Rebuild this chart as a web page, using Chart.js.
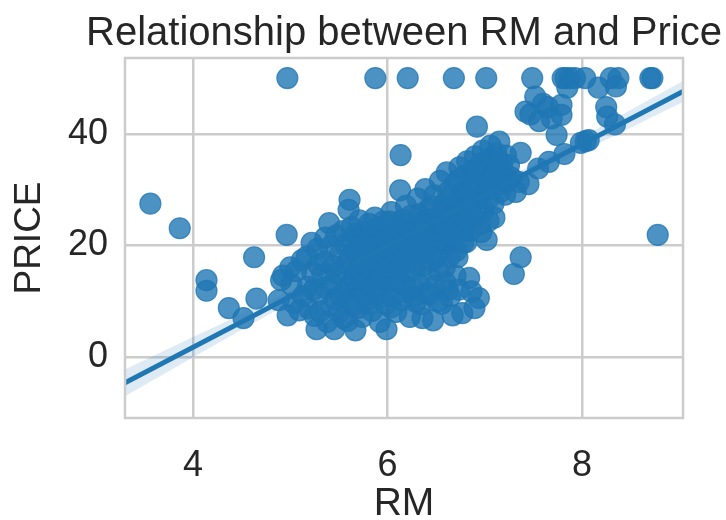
<!DOCTYPE html>
<html>
<head>
<meta charset="utf-8">
<script src="https://cdn.jsdelivr.net/npm/chart.js@4.4.1/dist/chart.umd.min.js"></script>
<style>
  html, body { margin: 0; padding: 0; background: #ffffff; }
  canvas { display: block; }
</style>
</head>
<body>
<canvas id="chart" width="726" height="520"></canvas>
<script>
// Average number of rooms (RM) and median home price (PRICE, $1000s)
const rm = [
  3.561, 3.863, 4.138, 4.138, 4.368, 4.519, 4.628, 4.652, 4.880, 4.906,
  4.926, 4.963, 4.970, 4.973, 5.000, 5.012, 5.036, 5.060, 5.093, 5.120,
  5.130, 5.170, 5.180, 5.190, 5.220, 5.225, 5.240, 5.250, 5.270, 5.280,
  5.290, 5.300, 5.310, 5.330, 5.350, 5.360, 5.370, 5.380, 5.400, 5.410,
  5.420, 5.430, 5.440, 5.453, 5.460, 5.470, 5.480, 5.500, 5.510, 5.520,
  5.530, 5.540, 5.550, 5.560, 5.570, 5.580, 5.590, 5.600, 5.610, 5.620,
  5.630, 5.640, 5.660, 5.670, 5.680, 5.690, 5.700, 5.710, 5.720, 5.730,
  5.740, 5.750, 5.760, 5.780, 5.790, 5.800, 5.810, 5.820, 5.830, 5.840,
  5.850, 5.860, 5.870, 5.875, 5.880, 5.890, 5.900, 5.910, 5.920, 5.930,
  5.940, 5.950, 5.960, 5.970, 5.980, 5.990, 6.000, 6.010, 6.020, 6.030,
  6.040, 6.050, 6.060, 6.070, 6.080, 6.090, 6.100, 6.110, 6.120, 6.130,
  6.135, 6.140, 6.150, 6.160, 6.170, 6.180, 6.190, 6.200, 6.208, 6.210,
  6.220, 6.230, 6.240, 6.250, 6.260, 6.270, 6.280, 6.290, 6.300, 6.310,
  6.320, 6.330, 6.340, 6.350, 6.360, 6.370, 6.380, 6.390, 6.400, 6.410,
  6.420, 6.430, 6.440, 6.450, 6.460, 6.470, 6.480, 6.490, 6.500, 6.510,
  6.520, 6.530, 6.540, 6.550, 6.560, 6.570, 6.580, 6.590, 6.600, 6.610,
  6.620, 6.630, 6.640, 6.650, 6.660, 6.670, 6.680, 6.683, 6.690, 6.700,
  6.710, 6.720, 6.730, 6.740, 6.750, 6.760, 6.770, 6.780, 6.790, 6.800,
  6.810, 6.820, 6.830, 6.840, 6.850, 6.860, 6.870, 6.880, 6.900, 6.910,
  6.920, 6.930, 6.940, 6.950, 6.960, 6.970, 6.980, 6.990, 7.000, 7.016,
  7.020, 7.030, 7.040, 7.050, 7.060, 7.080, 7.090, 7.100, 7.120, 7.130,
  7.150, 7.160, 7.180, 7.200, 7.220, 7.240, 7.250, 7.270, 7.300, 7.320,
  7.350, 7.370, 7.370, 7.420, 7.450, 7.470, 7.489, 7.520, 7.550, 7.560,
  7.600, 7.650, 7.660, 7.690, 7.740, 7.790, 7.790, 7.802, 7.820, 7.831,
  7.850, 7.875, 7.929, 7.990, 8.034, 8.040, 8.070, 8.170, 8.250, 8.260,
  8.297, 8.340, 8.350, 8.375, 8.704, 8.725, 8.780,
  5.605, 5.625, 5.655, 5.675, 5.705, 5.725, 5.755, 5.775, 5.805, 5.825,
  5.855, 5.885, 5.905, 5.925, 5.955, 5.975, 6.005, 6.025, 6.055, 6.075,
  6.105, 6.125, 6.155, 6.175, 6.205, 6.225, 6.255, 6.275, 6.305, 6.325,
  6.355, 6.375, 6.405, 6.425, 6.455, 6.475, 6.505, 6.525, 6.555, 6.575,
  6.605, 6.625, 6.655, 6.675, 6.705, 6.725, 6.755, 6.775, 6.805, 6.825,
  6.855, 6.875, 6.905, 6.935, 6.965, 7.005, 7.035, 7.065, 7.105, 7.145,
  7.175, 7.210, 5.615, 5.695, 5.765, 5.815, 5.945, 6.035, 6.145, 6.185,
  6.265, 6.345, 6.435, 6.515, 6.595, 6.645, 6.735, 6.865, 6.895
];
const price = [
  27.5, 23.1, 11.9, 13.8, 8.8, 7.0, 17.9, 10.5, 10.2, 13.8,
  14.6, 21.9, 50.0, 7.5, 16.1, 13.0, 9.7, 15.4, 8.4, 17.4,
  10.9, 18.0, 12.6, 8.7, 20.5, 15.2, 12.1, 7.4, 5.0, 19.4,
  16.5, 11.3, 8.2, 14.8, 17.1, 21.4, 12.4, 6.3, 24.0, 19.8,
  9.2, 13.1, 16.3, 5.0, 10.4, 21.8, 15.0, 8.1, 18.4, 11.0,
  14.6, 22.6, 7.0, 11.7, 20.2, 16.8, 6.5, 26.4, 28.2, 13.1,
  23.3, 9.3, 18.9, 4.8, 15.6, 21.2, 11.9, 24.5, 19.1, 13.8,
  7.2, 17.0, 22.5, 15.0, 10.2, 20.4, 23.9, 13.4, 18.1, 8.3,
  16.0, 21.6, 25.0, 50.0, 11.8, 19.3, 14.3, 22.8, 6.3, 17.5,
  20.6, 12.7, 24.3, 15.6, 9.5, 5.0, 19.0, 22.0, 13.5, 17.8,
  26.0, 11.0, 20.1, 15.1, 23.6, 8.1, 18.7, 21.4, 13.9, 29.9,
  36.2, 16.6, 24.6, 19.6, 11.7, 22.9, 27.1, 14.9, 50.0, 17.4,
  20.9, 7.2, 25.3, 12.3, 19.4, 23.1, 15.7, 9.9, 21.7, 28.4,
  18.2, 13.1, 24.1, 20.0, 7.0, 16.4, 22.4, 30.1, 11.5, 19.8,
  26.5, 14.5, 21.2, 17.3, 23.8, 6.6, 29.0, 12.8, 20.6, 25.1,
  15.6, 18.8, 31.6, 22.2, 9.6, 24.0, 27.5, 16.1, 20.3, 33.1,
  12.0, 23.4, 18.0, 28.7, 25.9, 7.5, 21.5, 50.0, 31.0, 14.6,
  19.1, 17.9, 26.6, 34.0, 23.0, 29.4, 7.9, 20.5, 32.5, 24.8,
  20.6, 35.1, 27.9, 14.2, 22.6, 30.5, 33.4, 25.0, 36.0, 28.1,
  41.3, 31.2, 10.6, 23.8, 34.7, 29.1, 37.0, 26.4, 32.7, 50.0,
  21.0, 35.4, 24.4, 30.8, 37.9, 33.1, 27.5, 25.0, 36.5, 31.5,
  38.6, 29.6, 34.6, 33.0, 36.1, 31.6, 34.4, 32.2, 14.9, 29.6,
  31.4, 17.9, 36.6, 44.0, 31.0, 43.5, 50.0, 46.7, 33.8, 42.3,
  45.4, 44.8, 35.0, 42.8, 39.8, 45.2, 43.4, 50.0, 36.4, 50.0,
  48.3, 50.0, 50.0, 38.4, 50.0, 38.7, 38.9, 48.3, 44.8, 43.1,
  50.0, 41.7, 48.5, 50.0, 50.0, 50.0, 21.9,
  17.8, 20.8, 14.2, 22.1, 16.2, 20.0, 13.3, 18.6, 21.4, 15.9,
  19.9, 17.1, 23.3, 13.9, 18.3, 21.2, 16.2, 24.3, 19.2, 21.9,
  15.4, 23.0, 17.7, 20.6, 24.0, 18.4, 22.0, 16.8, 20.2, 25.6,
  22.8, 18.7, 24.6, 20.7, 27.0, 22.3, 17.8, 24.5, 21.0, 26.2,
  23.1, 29.6, 21.9, 27.0, 24.1, 31.7, 26.0, 22.5, 29.1, 24.0,
  27.4, 31.8, 33.0, 26.7, 22.4, 30.1, 28.2, 34.9, 32.5, 35.2,
  31.0, 29.1, 10.5, 8.8, 11.0, 9.6, 10.9, 8.9, 10.2, 12.7,
  10.8, 9.5, 11.2, 10.0, 13.4, 10.9, 12.1, 11.8, 8.8
];

// Fitted regression line (end points) and its 95% confidence band
const fitX = [3.30, 9.04];
const fitY = [-4.6, 47.6];
const bandX    = [3.30, 4.0, 4.5, 5.0, 5.5, 6.0, 6.3, 6.6, 7.0, 7.5, 8.0, 8.5, 9.04];
const bandLow  = [-7.0, 0.0, 4.9, 9.8, 14.7, 19.4, 22.2, 24.9, 28.3, 32.6, 36.8, 41.1, 45.7];
const bandHigh = [-2.2, 3.6, 7.7, 11.9, 16.2, 20.5, 23.2, 26.0, 29.8, 34.6, 39.4, 44.3, 49.5];

// Axis ticks and limits
const xTicks = [4, 6, 8];
const yTicks = [0, 20, 40];
const xRange = [3.30, 9.04];
const yRange = [-10.9, 53.6];

const TITLE = 'Relationship between RM and Price';
const TEXT = '#262626';
const GRID = '#cccccc';
const BLUE = '#1f77b4';
const FONT = "'Liberation Sans', Arial, Helvetica, sans-serif";

const pts = (xs, ys) => xs.map((x, i) => ({ x: x, y: ys[i] }));

// light grey frame around the plotting area
const frame = {
  id: 'frame',
  afterDatasetsDraw(chart) {
    const { ctx, chartArea: a } = chart;
    ctx.save();
    ctx.strokeStyle = GRID;
    ctx.lineWidth = 2.5;
    ctx.strokeRect(a.left, a.top, a.right - a.left, a.bottom - a.top);
    ctx.restore();
  }
};

// title centred over the plotting area, drawn at its natural width
const axesTitle = {
  id: 'axesTitle',
  afterDraw(chart) {
    const { ctx, chartArea: a } = chart;
    ctx.save();
    ctx.fillStyle = TEXT;
    ctx.font = '40px ' + FONT;
    ctx.textAlign = 'center';
    ctx.textBaseline = 'alphabetic';
    ctx.fillText(TITLE, (a.left + a.right) / 2, 45);
    ctx.restore();
  }
};

new Chart(document.getElementById('chart'), {
  type: 'scatter',
  data: {
    datasets: [
      {
        label: 'RM vs PRICE',
        data: pts(rm, price),
        backgroundColor: 'rgba(31,119,180,0.8)',
        borderColor: 'rgba(31,119,180,0.8)',
        borderWidth: 1.2,
        pointRadius: 10.5,
        pointHoverRadius: 10.5,
        order: 3
      },
      {
        type: 'line',
        label: 'ci low',
        data: pts(bandX, bandLow),
        borderWidth: 0,
        borderColor: 'rgba(0,0,0,0)',
        pointRadius: 0,
        fill: false,
        cubicInterpolationMode: 'monotone',
        order: 2
      },
      {
        type: 'line',
        label: 'ci high',
        data: pts(bandX, bandHigh),
        borderWidth: 0,
        borderColor: 'rgba(0,0,0,0)',
        backgroundColor: 'rgba(31,119,180,0.15)',
        pointRadius: 0,
        fill: '-1',
        cubicInterpolationMode: 'monotone',
        order: 2
      },
      {
        type: 'line',
        label: 'fit',
        data: pts(fitX, fitY),
        borderColor: BLUE,
        borderWidth: 5,
        pointRadius: 0,
        fill: false,
        order: 1
      }
    ]
  },
  options: {
    responsive: false,
    devicePixelRatio: 1,
    animation: false,
    events: [],
    layout: { padding: { left: 0, right: 43, top: 58, bottom: 0 } },
    plugins: {
      legend: { display: false },
      tooltip: { enabled: false },
      title: { display: false }
    },
    scales: {
      x: {
        type: 'linear',
        min: xRange[0],
        max: xRange[1],
        afterBuildTicks: s => { s.ticks = xTicks.map(v => ({ value: v })); },
        afterFit: s => { s.height = 102; },
        grid: { color: GRID, lineWidth: 2.5, drawTicks: false },
        border: { display: false },
        ticks: { color: TEXT, font: { family: FONT, size: 36 }, padding: 26, maxRotation: 0 },
        title: {
          display: true, text: 'RM', color: TEXT,
          font: { family: FONT, size: 39, lineHeight: 0.8 },
          padding: { top: 0, bottom: 0 }
        }
      },
      y: {
        type: 'linear',
        min: yRange[0],
        max: yRange[1],
        afterBuildTicks: s => { s.ticks = yTicks.map(v => ({ value: v })); },
        afterFit: s => { s.width = 125; },
        grid: { color: GRID, lineWidth: 2.5, drawTicks: false },
        border: { display: false },
        ticks: { color: TEXT, font: { family: FONT, size: 36 }, padding: 17 },
        title: {
          display: true, text: 'PRICE', color: TEXT,
          font: { family: FONT, size: 37, lineHeight: 1.0 },
          padding: { top: 11, bottom: 0 }
        }
      }
    }
  },
  plugins: [frame, axesTitle]
});
</script>
</body>
</html>
